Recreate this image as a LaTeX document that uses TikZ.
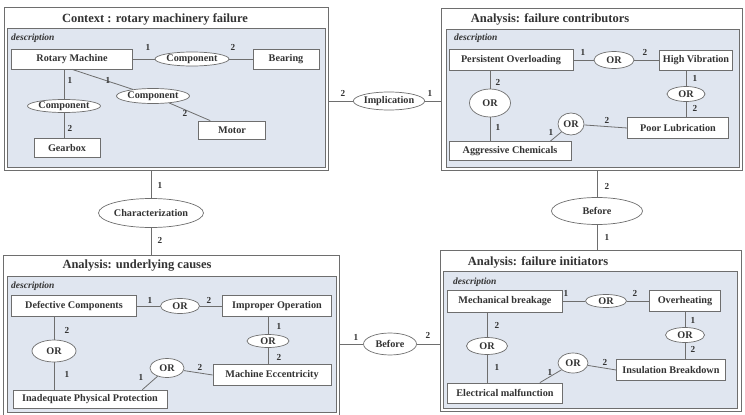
\documentclass[tikz,border=0pt]{standalone}
\usepackage{fontspec}
\setmainfont{Liberation Serif}
\usetikzlibrary{shapes.geometric,calc}
\definecolor{linegray}{HTML}{6E6E6E}
\definecolor{panelblue}{HTML}{E0E6F0}
\definecolor{textgray}{HTML}{333333}
\tikzset{
  frame/.style={draw=linegray, fill=white, line width=0.8pt},
  panel/.style={draw=linegray, fill=panelblue, line width=0.6pt},
  entity/.style={draw=linegray, fill=white, line width=0.7pt, inner sep=1pt,
    text=textgray, font=\bfseries\fontsize{10.2}{11}\selectfont},
  rel/.style={ellipse, draw=linegray, fill=white, line width=0.7pt, inner sep=0pt,
    text=textgray, font=\bfseries\fontsize{10.2}{11}\selectfont},
  link/.style={draw=linegray, line width=0.8pt},
  num/.style={text=textgray, inner sep=0pt, font=\bfseries\fontsize{9.2}{10}\selectfont},
  title/.style={text=textgray, inner sep=0pt, font=\bfseries\fontsize{12.5}{13}\selectfont},
  desc/.style={text=textgray, inner sep=0pt, anchor=west,
    font=\bfseries\itshape\fontsize{9.5}{10}\selectfont}
}
\begin{document}
\begin{tikzpicture}[x=1pt, y=-1pt]
      \useasboundingbox (0,0) rectangle (745,415);

      % Frames
      \node[frame, minimum width=324, minimum height=163] (ctx) at (166,88.5) {};
      \node[frame, minimum width=301, minimum height=162] (contrib) at (591.5,89) {};
      \node[frame, minimum width=336, minimum height=160] (causes) at (171,335) {};
      \node[frame, minimum width=301, minimum height=161] (init) at (590.5,330.5) {};
      \draw[panel] (7,28) rectangle (325,167);
      \draw[panel] (446,29) rectangle (739,167);
      \draw[panel] (7,276) rectangle (336,412);
      \draw[panel] (443,271) rectangle (737,408);

      % Titles
      \node[title] (ctxtitle) at (155,19) {Context : rotary machinery failure};
      \node[title] (contribtitle) at (550,19) {Analysis: failure contributors};
      \node[title] (causestitle) at (137,266) {Analysis: underlying causes};
      \node[title] (inittitle) at (538,262) {Analysis: failure initiators};
      \node[desc] (ctxdesc) at (11,38) {description};
      \node[desc] (contribdesc) at (454,38) {description};
      \node[desc] (causesdesc) at (11,286) {description};
      \node[desc] (initdesc) at (453,282) {description};

      % Context: rotary machinery failure
      \node[entity, minimum width=121, minimum height=20] (rm) at (72,59) {Rotary Machine};
      \node[entity, minimum width=66, minimum height=20] (bear) at (286,59) {Bearing};
      \node[entity, minimum width=66, minimum height=19] (gear) at (67,148) {Gearbox};
      \node[entity, minimum width=67, minimum height=18] (motor) at (232,130) {Motor};
      \node[rel, minimum width=74, minimum height=14] (comp1) at (192,59) {Component};
      \node[rel, minimum width=73, minimum height=13] (comp2) at (64,106) {Component};
      \node[rel, minimum width=73, minimum height=15] (comp3) at (153,96) {Component};
      \draw[link] (rm) -- (comp1) -- (bear);
      \draw[link] (comp2) -- (comp2 |- rm.south);
      \draw[link] (comp2) -- (comp2 |- gear.north);
      \draw[link] (rm.south) -- (comp3) -- (motor);

      % Analysis: failure contributors
      \node[entity, minimum width=124, minimum height=21] (po) at (511,60) {Persistent Overloading};
      \node[entity, minimum width=73, minimum height=20] (hv) at (696,60) {High Vibration};
      \node[entity, minimum width=101, minimum height=21] (pl) at (678,128) {Poor Lubrication};
      \node[entity, minimum width=122, minimum height=19] (ac) at (510,151) {Aggressive Chemicals};
      \node[rel, minimum width=40, minimum height=17] (or1) at (614,60) {OR};
      \node[rel, minimum width=38, minimum height=15] (or2) at (686,94) {OR};
      \node[rel, minimum width=41, minimum height=28] (or3) at (490,103) {OR};
      \node[rel, minimum width=26, minimum height=22] (or4) at (571,124) {OR};
      \draw[link] (po) -- (or1) -- (hv);
      \draw[link] (or2) -- (or2 |- hv.south);
      \draw[link] (or2) -- (or2 |- pl.north);
      \draw[link] (or3) -- (or3 |- po.south);
      \draw[link] (or3) -- (or3 |- ac.north);
      \draw[link] ($(ac.north east)+(-21,0)$) -- (or4) -- (pl.west);

      % Analysis: underlying causes
      \node[entity, minimum width=125, minimum height=21] (dc) at (74,306) {Defective Components};
      \node[entity, minimum width=109, minimum height=21] (io) at (277,306) {Improper Operation};
      \node[entity, minimum width=118, minimum height=21] (me) at (272,375) {Machine Eccentricity};
      \node[entity, minimum width=154, minimum height=18] (ipp) at (90,399) {Inadequate Physical Protection};
      \node[rel, minimum width=39, minimum height=15] (ora) at (180,306) {OR};
      \node[rel, minimum width=42, minimum height=13] (orb) at (268,341) {OR};
      \node[rel, minimum width=44, minimum height=22] (orc) at (54,351) {OR};
      \node[rel, minimum width=34, minimum height=19] (ord) at (167,368) {OR};
      \draw[link] (dc) -- (ora) -- (io);
      \draw[link] (orb) -- (orb |- io.south);
      \draw[link] (orb) -- (orb |- me.north);
      \draw[link] (orc) -- (orc |- dc.south);
      \draw[link] (orc) -- (orc |- ipp.north);
      \draw[link] ($(ipp.north east)+(-25,0)$) -- (ord) -- (me.west);

      % Analysis: failure initiators
      \node[entity, minimum width=115, minimum height=22] (mb) at (505,301) {Mechanical breakage};
      \node[entity, minimum width=71, minimum height=21] (ov) at (685,301) {Overheating};
      \node[entity, minimum width=109, minimum height=21] (ib) at (671,370) {Insulation Breakdown};
      \node[entity, minimum width=115, minimum height=20] (em) at (505,393) {Electrical malfunction};
      \node[rel, minimum width=41, minimum height=13] (ore) at (606,301) {OR};
      \node[rel, minimum width=39, minimum height=15] (orf) at (685,335) {OR};
      \node[rel, minimum width=41, minimum height=17] (org) at (487,346) {OR};
      \node[rel, minimum width=30, minimum height=20] (orh) at (573,363) {OR};
      \draw[link] (mb) -- (ore) -- (ov);
      \draw[link] (orf) -- (orf |- ov.south);
      \draw[link] (orf) -- (orf |- ib.north);
      \draw[link] (org) -- (org |- mb.south);
      \draw[link] (org) -- (org |- em.north);
      \draw[link] ($(em.north east)+(-23,0)$) -- (orh) -- (ib.west);

      % Links between frames
      \node[rel, minimum width=62, minimum height=18] (impl) at (389,101) {Implication};
      \node[rel, minimum width=101, minimum height=29] (charact) at (151,213) {Characterization};
      \node[rel, minimum width=91, minimum height=27] (before1) at (597,211) {Before};
      \node[rel, minimum width=53, minimum height=22] (before2) at (390,344) {Before};
      \draw[link] (impl) -- (impl -| ctx.east);
      \draw[link] (impl) -- (impl -| contrib.west);
      \draw[link] (charact) -- (charact |- ctx.south);
      \draw[link] (charact) -- (charact |- causes.north);
      \draw[link] (before1) -- (before1 |- contrib.south);
      \draw[link] (before1) -- (before1 |- init.north);
      \draw[link] (before2) -- (before2 -| causes.east);
      \draw[link] (before2) -- (before2 -| init.west);

      % Cardinalities
      \foreach \x/\y/\t [count=\i] in {148/47/1, 233/47/2, 70/80/1, 70/128/2, 108/80/1, 185/113/2,
          583/52/1, 645/52/2, 695/78/1, 695/108/2, 498/82/2, 498/127/1, 551/132/1, 607/120/2,
          150/300/1, 209/300/2, 279/326/1, 279/357/2, 67/330/2, 67/374/1, 141/377/1, 200/367/2,
          566/293/1, 635/293/2, 693/320/1, 693/349/2, 497/325/2, 497/367/1, 550/372/1, 605/362/2,
          343/93/2, 430/93/1, 160/185/1, 160/240/2, 607/186/2, 607/237/1, 356/337/1, 428/335/2}
        \node[num] (card\i) at (\x,\y) {\t};
    \end{tikzpicture}
\end{document}
